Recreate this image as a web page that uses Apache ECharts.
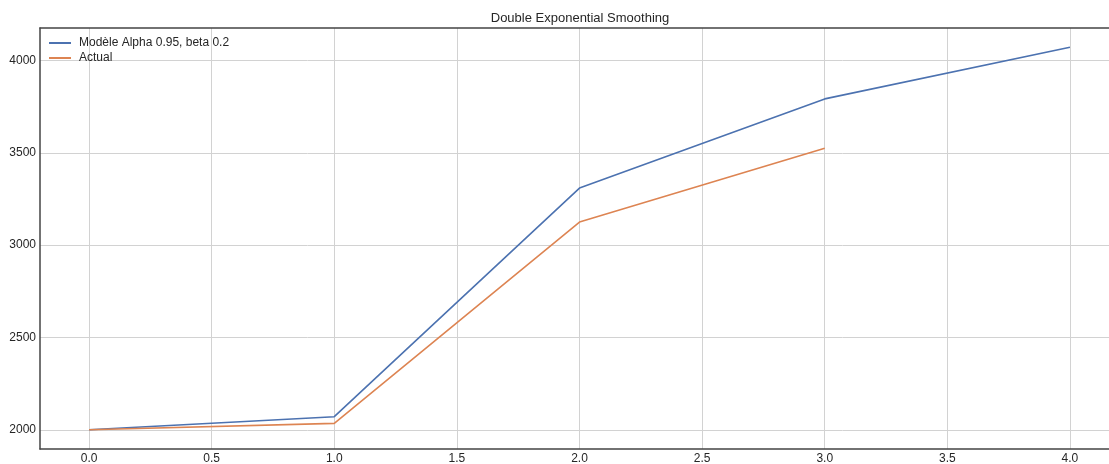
<!DOCTYPE html>
<html>
<head>
<meta charset="utf-8">
<script src="https://cdn.jsdelivr.net/npm/echarts@6/dist/echarts.min.js"></script>
<style>
  html, body { margin: 0; padding: 0; background: #fff; }
  #chart { width: 1109px; height: 464px; }
</style>
</head>
<body>
<div id="chart"></div>
<script>
// Time steps and the two series
const steps = [0, 1, 2, 3, 4];
const actual = [2000, 2035, 3125, 3525];
const model = [2000, 2071, 3309, 3792, 4072];

// Tick positions
const xTicks = [0, 0.5, 1, 1.5, 2, 2.5, 3, 3.5, 4];
const yTicks = [2000, 2500, 3000, 3500, 4000];

const FONT = 'Liberation Sans';
const TEXT = '#262626';
const GRIDC = '#d2d2d2';
const SPINE = '#444';

const pairs = (xs, ys) => ys.map((v, i) => [xs[i], v]);
const lineIcon = 'rect';

const chart = echarts.init(document.getElementById('chart'), null, { renderer: 'canvas' });
chart.setOption({
  animation: false,
  backgroundColor: '#fff',
  title: {
    text: 'Double Exponential Smoothing',
    left: 580,
    textAlign: 'center',
    top: 12,
    padding: 0,
    textStyle: { fontFamily: FONT, fontSize: 13, fontWeight: 'normal', color: TEXT }
  },
  legend: {
    orient: 'vertical',
    left: 49,
    top: 36,
    padding: 0,
    itemWidth: 22,
    itemHeight: 2,
    itemGap: 1,
    textStyle: { fontFamily: FONT, fontSize: 12, lineHeight: 14, color: TEXT, padding: [0, 0, 0, 3] },
    data: [
      { name: 'Modèle Alpha 0.95, beta 0.2', icon: lineIcon },
      { name: 'Actual', icon: lineIcon }
    ]
  },
  grid: { left: 40, right: -10, top: 28, bottom: 15, outerBoundsMode: 'none', containLabel: false },
  xAxis: [{
    type: 'value',
    min: -0.2,
    max: 4.2,
    position: 'bottom',
    axisLine: { show: true, onZero: false, lineStyle: { color: SPINE, width: 1.5 } },
    axisTick: { show: false, customValues: xTicks },
    axisLabel: {
      customValues: xTicks,
      formatter: v => v.toFixed(1),
      fontFamily: FONT, fontSize: 12, color: TEXT, margin: 4
    },
    splitLine: { show: true, customValues: xTicks, lineStyle: { color: GRIDC, width: 1 } }
  }, {
    type: 'value',
    min: -0.2,
    max: 4.2,
    position: 'top',
    axisLine: { show: true, onZero: false, lineStyle: { color: SPINE, width: 1.5 } },
    axisTick: { show: false },
    axisLabel: { show: false },
    splitLine: { show: false }
  }],
  yAxis: {
    type: 'value',
    min: 1896,
    max: 4176,
    axisLine: { show: true, onZero: false, lineStyle: { color: SPINE, width: 1.5 } },
    axisTick: { show: false, customValues: yTicks },
    axisLabel: {
      customValues: yTicks,
      formatter: v => String(v),
      fontFamily: FONT, fontSize: 12, color: TEXT, margin: 4,
      padding: [3, 0, 0, 0]
    },
    splitLine: { show: true, customValues: yTicks, lineStyle: { color: GRIDC, width: 1 } }
  },
  series: [{
    name: 'Modèle Alpha 0.95, beta 0.2',
    type: 'line',
    data: pairs(steps, model),
    symbol: 'none',
    lineStyle: { color: '#4c72b0', width: 1.6 },
    itemStyle: { color: '#4c72b0' },
    z: 3
  }, {
    name: 'Actual',
    type: 'line',
    data: pairs(steps, actual),
    symbol: 'none',
    lineStyle: { color: '#dd8452', width: 1.6 },
    itemStyle: { color: '#dd8452' },
    z: 3
  }]
});
</script>
</body>
</html>
